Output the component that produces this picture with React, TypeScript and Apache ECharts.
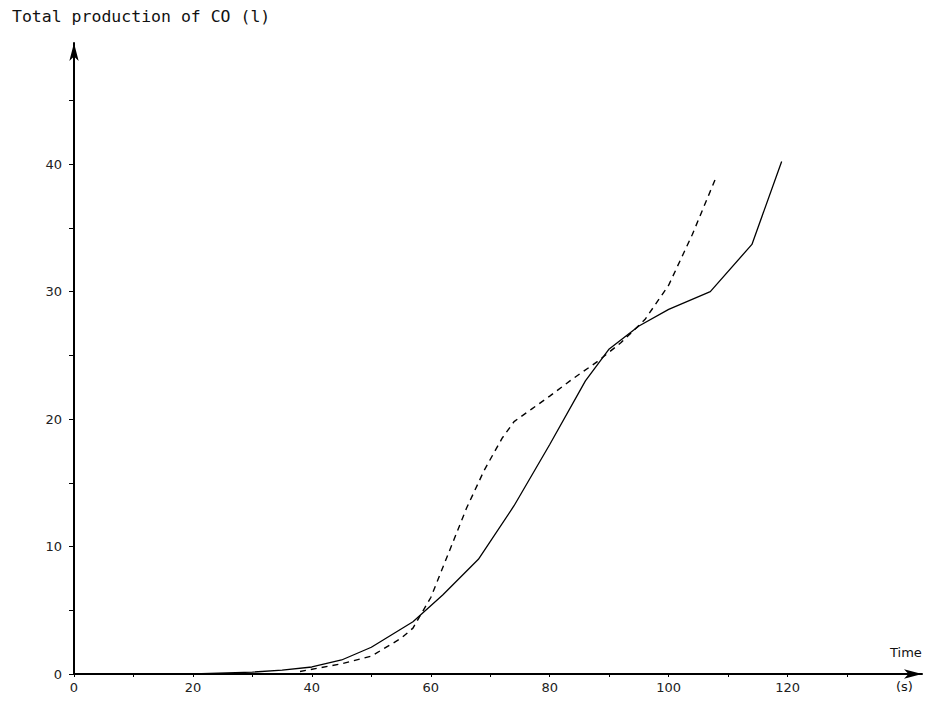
import React, { useEffect, useRef } from "react";
import * as echarts from "echarts";

const titleText = "Total production of CO (l)";
const xName = "Time";
const xUnit = "(s)";

const xTicks = [0, 20, 40, 60, 80, 100, 120];
const xMinorTicks = [0, 10, 20, 30, 40, 50, 60, 70, 80, 90, 100, 110, 120, 130];
const yTicks = [0, 10, 20, 30, 40];
const yMinorTicks = [0, 5, 10, 15, 20, 25, 30, 35, 40, 45];

const timeSolid = [20, 30, 35, 40, 45, 50, 57, 62, 68, 74, 80, 86, 90, 95, 100, 107, 114, 119];
const coSolid = [0, 0.15, 0.3, 0.55, 1.1, 2.1, 4.1, 6.2, 9.0, 13.2, 18.0, 23.0, 25.5, 27.3, 28.6, 30.0, 33.7, 40.2];

const timeDashed = [38, 45, 50, 55, 57, 60, 63, 66, 69, 72, 74, 77, 80, 84, 88, 92, 96, 100, 104, 108];
const coDashed = [0.2, 0.8, 1.4, 2.8, 3.6, 6.0, 9.5, 13.0, 16.0, 18.5, 19.8, 20.8, 21.8, 23.2, 24.5, 26.0, 27.8, 30.5, 34.5, 39.0];

const FONT = "DejaVu Sans";

export default function App() {
  const ref = useRef<HTMLDivElement>(null);

  useEffect(() => {
    if (!ref.current) return;
    const chart = echarts.init(ref.current, null, { renderer: "svg" });
    const solid = timeSolid.map((t, i) => [t, coSolid[i]]);
    const dashed = timeDashed.map((t, i) => [t, coDashed[i]]);
    chart.setOption({
      animation: false,
      backgroundColor: "#ffffff",
      grid: { left: 74, right: 12, top: 43, bottom: 30, containLabel: false },
      xAxis: {
        type: "value",
        min: 0,
        max: 142.6,
        interval: 20,
        splitLine: { show: false },
        axisLine: {
          show: true,
          lineStyle: { color: "#000", width: 2 },
          symbol: ["none", "arrow"],
          symbolSize: [7, 18],
          symbolOffset: [0, 0],
        },
        axisTick: {
          show: true,
          customValues: xMinorTicks,
          length: 3,
          lineStyle: { color: "#000", width: 1 },
        },
        axisLabel: {
          customValues: xTicks,
          color: "#222",
          fontFamily: FONT,
          fontSize: 13,
          margin: 7,
        },
      },
      yAxis: {
        type: "value",
        min: 0,
        max: 49.5,
        interval: 10,
        splitLine: { show: false },
        axisLine: {
          show: true,
          lineStyle: { color: "#000", width: 2 },
          symbol: ["none", "arrow"],
          symbolSize: [7, 18],
          symbolOffset: [0, 0],
        },
        axisTick: {
          show: true,
          customValues: yMinorTicks,
          length: 5,
          lineStyle: { color: "#000", width: 1 },
        },
        axisLabel: {
          customValues: yTicks,
          color: "#222",
          fontFamily: FONT,
          fontSize: 13,
          margin: 12,
        },
      },
      series: [
        {
          type: "line",
          data: solid,
          showSymbol: false,
          smooth: false,
          lineStyle: { color: "#000", width: 1.3 },
        },
        {
          type: "line",
          data: dashed,
          showSymbol: false,
          smooth: false,
          lineStyle: { color: "#000", width: 1.4, type: [6, 5] },
        },
      ],
      graphic: [
        {
          type: "text",
          left: 12,
          top: 8,
          style: { text: titleText, fill: "#111", font: `16.5px "DejaVu Sans Mono"` },
        },
        {
          type: "text",
          left: 890,
          top: 646,
          style: { text: xName, fill: "#111", font: `13px ${FONT}` },
        },
        {
          type: "text",
          left: 896,
          top: 680,
          style: { text: xUnit, fill: "#111", font: `13px ${FONT}` },
        },
      ],
    });
    return () => chart.dispose();
  }, []);

  return (
    <div
      ref={ref}
      style={{ position: "fixed", left: 0, top: 0, width: 934, height: 704 }}
    />
  );
}
